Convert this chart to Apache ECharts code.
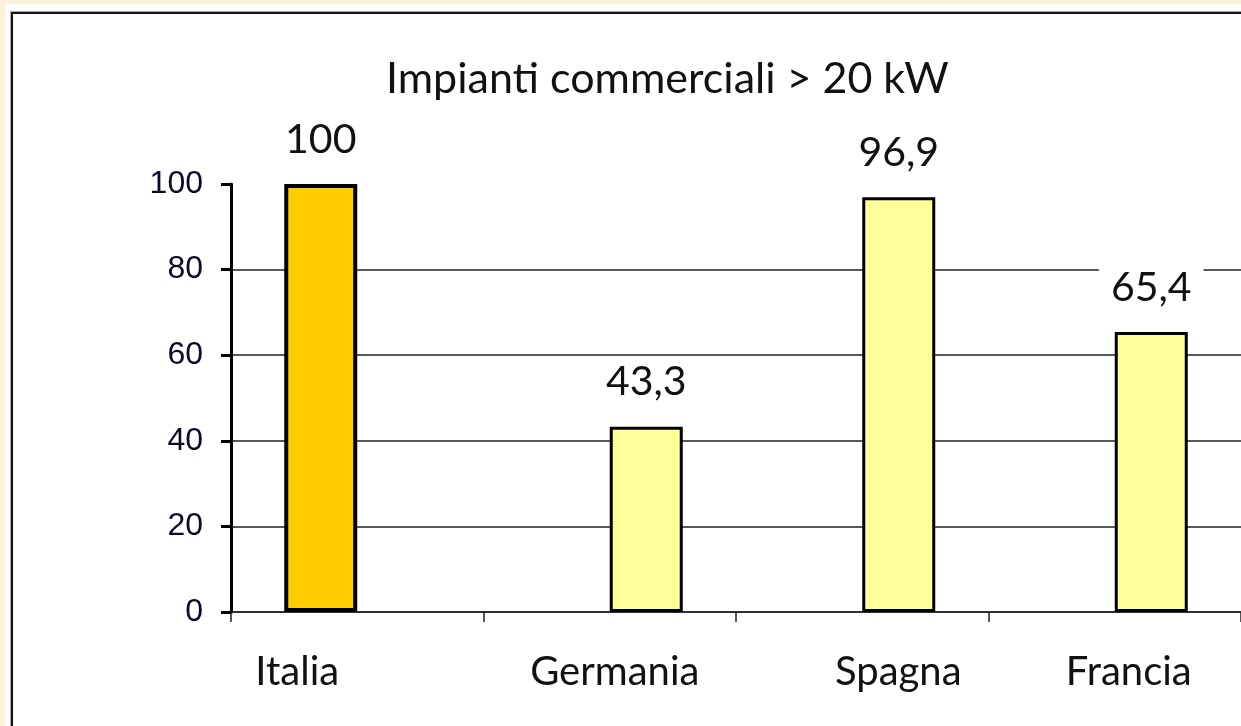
<!DOCTYPE html>
<html>
<head>
<meta charset="utf-8">
<script src="https://cdn.jsdelivr.net/npm/echarts@6/dist/echarts.min.js"></script>
<style>
html, body { margin: 0; padding: 0; width: 100%; height: 100%; overflow: hidden; background: #fbf1da; }
.paper { position: absolute; left: 5px; top: 4px; right: -30px; bottom: -30px; background: #fff; }
.frame { position: absolute; left: 11px; top: 12px; right: -30px; bottom: -30px; border-left: 2px solid #111; border-top: 2px solid #111; }
.frame-out { position: absolute; left: 10px; top: 11px; right: -30px; bottom: -30px; border-left: 1px solid #aaa; border-top: 1px solid #aaa; }
#chart { position: absolute; left: 0; top: 0; width: 1241px; height: 726px; }
</style>
</head>
<body>
<div class="paper"></div>
<div class="frame-out"></div>
<div class="frame"></div>
<div id="chart"></div>
<script>
var titleText = 'Impianti commerciali > 20 kW';
var categories = ['Italia', 'Germania', 'Spagna', 'Francia'];
var italiaValues = [100, '-', '-', '-'];
var otherValues = ['-', 43.3, 96.9, 65.4];
var yTicks = { min: 0, max: 100, step: 20 };

// spostamento delle etichette dell'asse x rispetto al centro categoria
var labelShift = { Italia: -60, Germania: 5, Spagna: 36, Francia: 14 };

function comma(v) {
    return String(v).replace('.', ',');
}

var rich = {};
categories.forEach(function (c) {
    var s = labelShift[c];
    rich[c] = {
        fontFamily: 'Lato',
        fontSize: 40,
        color: '#111',
        padding: s < 0 ? [0, -2 * s, 0, 0] : [0, 0, 0, 2 * s]
    };
});

var valueLabel = {
    show: true,
    position: 'top',
    distance: 20,
    fontFamily: 'Lato',
    fontSize: 41,
    color: '#111',
    backgroundColor: '#fff',
    padding: [4, 12],
    formatter: function (p) { return comma(p.value); }
};

var myChart = echarts.init(document.getElementById('chart'));
var option = {
    animation: false,
    title: {
        text: titleText,
        left: 386,
        top: 58,
        padding: 0,
        textStyle: {
            fontFamily: 'Lato',
            fontSize: 43,
            fontWeight: 'normal',
            color: '#111'
        }
    },
    grid: {
        left: 231,
        right: 0,
        top: 184,
        bottom: 114,
        containLabel: false
    },
    xAxis: {
        type: 'category',
        data: categories,
        boundaryGap: true,
        axisLine: { lineStyle: { color: '#222', width: 1.5 } },
        axisTick: { show: true, length: 10, lineStyle: { color: '#222', width: 1.5 } },
        axisLabel: {
            margin: 40,
            formatter: function (v) { return '{' + v + '|' + v + '}'; },
            rich: rich
        }
    },
    yAxis: {
        type: 'value',
        min: yTicks.min,
        max: yTicks.max,
        interval: yTicks.step,
        axisLine: { show: true, lineStyle: { color: '#000', width: 3 } },
        axisTick: { show: true, length: 10, lineStyle: { color: '#000', width: 3 } },
        axisLabel: {
            margin: 28,
            fontFamily: 'Liberation Sans',
            fontSize: 32,
            color: '#0b0b28'
        },
        splitLine: {
            show: true,
            showMaxLine: false,
            lineStyle: { color: '#222', width: 1.5 }
        }
    },
    series: [
        {
            type: 'bar',
            data: italiaValues,
            barWidth: 73,
            barGap: '0%',
            itemStyle: { color: '#ffcc00', borderColor: '#000', borderWidth: 4 },
            label: valueLabel
        },
        {
            type: 'bar',
            data: otherValues,
            barWidth: 73,
            barGap: '0%',
            itemStyle: { color: '#ffff99', borderColor: '#000', borderWidth: 3 },
            label: valueLabel
        }
    ]
};
myChart.setOption(option);
window.addEventListener('resize', function () {
    myChart.resize();
});
</script>
</body>
</html>
